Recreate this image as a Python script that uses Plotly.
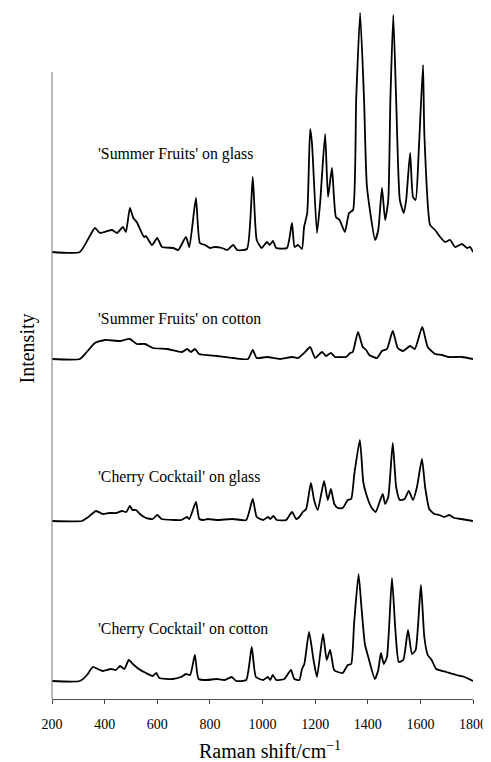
import plotly.graph_objects as go

# ---------------- data ----------------
sf_glass_x = [200, 306, 363, 382, 428, 447, 470, 481, 496, 509, 522, 550, 557, 580, 600, 618, 661, 680,
              709, 722, 747, 762, 781, 800, 819, 846, 865, 889, 904, 941, 963, 978, 997, 1017, 1027,
              1040, 1052, 1093, 1112, 1122, 1135, 1150, 1158, 1170, 1181, 1188, 1207, 1219, 1238, 1249,
              1264, 1279, 1293, 1313, 1329, 1344, 1356, 1371, 1386, 1397, 1428, 1440, 1454, 1466, 1478,
              1486, 1497, 1508, 1522, 1537, 1546, 1561, 1572, 1582, 1594, 1610, 1615, 1637, 1656, 1675,
              1694, 1713, 1732, 1758, 1777, 1789, 1800]
sf_glass_y = [0, 0, 24, 19, 22, 19, 25, 20, 44, 34, 30, 15, 16, 7, 14, 5, 4, 2,
              15, 5, 54, 9, 7, 4, 5, 4, 2, 7, 2, 3, 75, 12, 4, 10, 7,
              11, 4, 4, 29, 5, 7, 3, 25, 39, 123, 109, 19, 49, 118, 55,
              84, 35, 32, 20, 39, 42, 152, 239, 152, 65, 12, 22, 64, 32, 52,
              152, 237, 152, 52, 39, 52, 99, 55, 52, 102, 187, 119, 27, 22, 15,
              10, 12, 5, 8, 4, 5, 0]

sf_cotton_x = [200, 306, 329, 363, 401, 458, 496, 522, 553, 584, 637, 694, 713, 728, 743, 759, 827, 889,
               945, 963, 978, 1017, 1067, 1112, 1135, 1162, 1181, 1200, 1226, 1241, 1260, 1276, 1293,
               1318, 1333, 1343, 1363, 1381, 1394, 1406, 1435, 1454, 1473, 1495, 1514, 1534, 1561,
               1579, 1607, 1628, 1656, 1682, 1707, 1758, 1800]
sf_cotton_y = [0, 0, 6, 16, 19, 18, 20, 15, 15, 11, 10, 7, 10, 7, 10, 5, 3, 1,
               0, 9, 1, 2, 0, 2, 1, 7, 12, 1, 7, 3, 6, 2, 2,
               2, 6, 7, 27, 12, 9, 4, 1, 8, 10, 28, 11, 8, 13,
               10, 32, 12, 5, 4, 2, 2, 0]

cc_glass_x = [200, 313, 338, 367, 393, 418, 443, 466, 482, 496, 506, 519, 534, 557, 583, 600, 616, 661,
              692, 713, 722, 747, 760, 776, 792, 824, 887, 938, 963, 978, 1003, 1021, 1030, 1041, 1054,
              1090, 1112, 1128, 1140, 1153, 1166, 1184, 1196, 1210, 1234, 1248, 1260, 1273, 1286, 1305,
              1324, 1337, 1349, 1370, 1383, 1394, 1413, 1430, 1445, 1457, 1466, 1478, 1495, 1508, 1522,
              1540, 1556, 1572, 1587, 1606, 1618, 1634, 1653, 1672, 1691, 1710, 1729, 1755, 1800]
cc_glass_y = [0, 0, 4, 10, 7, 8, 8, 10, 9, 15, 11, 11, 7, 3, 2, 6, 2, 1,
              1, 4, 2, 19, 2, 1, 2, 1, 2, 1, 22, 4, 1, 4, 2, 5, 1,
              1, 9, 2, 4, 9, 12, 38, 21, 11, 40, 21, 32, 17, 13, 13,
              21, 22, 47, 81, 39, 27, 14, 9, 19, 27, 17, 24, 78, 34, 21,
              22, 30, 21, 34, 62, 34, 12, 7, 6, 4, 6, 3, 2, 0]

cc_cotton_x = [200, 306, 333, 355, 374, 393, 424, 443, 459, 475, 492, 507, 530, 557, 583, 596, 608, 659,
               690, 709, 725, 743, 757, 789, 824, 856, 883, 900, 938, 959, 975, 1003, 1020, 1029, 1039,
               1052, 1083, 1108, 1121, 1140, 1150, 1159, 1177, 1194, 1207, 1230, 1244, 1257, 1272, 1286,
               1305, 1324, 1337, 1348, 1365, 1376, 1389, 1402, 1427, 1440, 1450, 1461, 1473, 1492, 1505,
               1518, 1535, 1553, 1568, 1582, 1602, 1615, 1628, 1643, 1660, 1698, 1736, 1768, 1800]
cc_cotton_y = [0, 0, 6, 14, 12, 10, 12, 11, 15, 12, 21, 17, 12, 8, 5, 8, 3, 2,
               4, 7, 6, 26, 2, 1, 2, 1, 4, 0, 1, 34, 4, 1, 4, 1, 6,
               1, 2, 11, 2, 1, 12, 17, 49, 21, 4, 47, 21, 31, 11, 9,
               8, 16, 17, 57, 107, 74, 37, 24, 2, 11, 28, 17, 24, 103, 51,
               19, 21, 51, 27, 31, 96, 44, 26, 21, 12, 9, 6, 4, 0]

labels = ["'Summer Fruits' on glass", "'Summer Fruits' on cotton",
          "'Cherry Cocktail' on glass", "'Cherry Cocktail' on cotton"]
x_ticks = [200, 400, 600, 800, 1000, 1200, 1400, 1600, 1800]

# ---------------- layout helpers (vertical stacking offsets) ----------------
offsets = [447, 340, 178, 18]
label_x = 367
label_y = [545, 381, 222, 70]

series = [(sf_glass_x, sf_glass_y), (sf_cotton_x, sf_cotton_y),
          (cc_glass_x, cc_glass_y), (cc_cotton_x, cc_cotton_y)]

FONT = "Liberation Serif, Times New Roman, serif"

fig = go.Figure()
for (xs, ys), off in zip(series, offsets):
    fig.add_trace(go.Scatter(
        x=xs, y=[v + off for v in ys], mode="lines",
        line=dict(color="black", width=1.8, shape="spline", smoothing=0.5),
        showlegend=False, hoverinfo="skip"))

for txt, ly in zip(labels, label_y):
    fig.add_annotation(x=label_x, y=ly, text=txt, showarrow=False,
                       xanchor="left", yanchor="middle",
                       font=dict(family=FONT, size=15.8, color="black"))

# axis titles
fig.add_annotation(xref="paper", yref="paper", x=0.5, y=0, xshift=7, yshift=-51,
                   text="Raman shift/cm<sup>−1</sup>", showarrow=False,
                   xanchor="center", yanchor="middle",
                   font=dict(family=FONT, size=20, color="black"))
fig.add_annotation(xref="paper", yref="paper", x=0, y=0.5, xshift=-25, yshift=5,
                   text="Intensity", showarrow=False, textangle=-90,
                   xanchor="center", yanchor="middle",
                   font=dict(family=FONT, size=20, color="black"))

# y-axis line (partial height, as in the original)
fig.add_shape(type="line", xref="paper", yref="y", x0=0, x1=0, y0=0, y1=627,
              line=dict(color="#8a8a8a", width=1.2))

# the page body adds an 8px margin, so the figure is 8px smaller than the window
fig.update_layout(
    width=483, height=754,
    margin=dict(l=44, r=18, t=0, b=63, autoexpand=False),
    paper_bgcolor="white", plot_bgcolor="white",
    showlegend=False,
    xaxis=dict(range=[200, 1800], tickvals=x_ticks, ticktext=[str(v) for v in x_ticks],
               ticks="outside", ticklen=4, tickwidth=1, tickcolor="#444",
               showline=True, linecolor="#555", linewidth=1.2,
               showgrid=False, zeroline=False, automargin=False,
               tickfont=dict(family=FONT, size=14, color="black"),
               ticklabelstandoff=8),
    xaxis2=dict(range=[200, 1800], overlaying="x", anchor="y", side="bottom",
                tickvals=x_ticks, ticks="inside", ticklen=4, tickwidth=1, tickcolor="#444",
                showticklabels=False, showline=False, showgrid=False, zeroline=False,
                automargin=False),
    yaxis=dict(range=[0, 691], showticklabels=False, ticks="", showline=False,
               showgrid=False, zeroline=False, automargin=False),
)

fig.write_html("out.html")
